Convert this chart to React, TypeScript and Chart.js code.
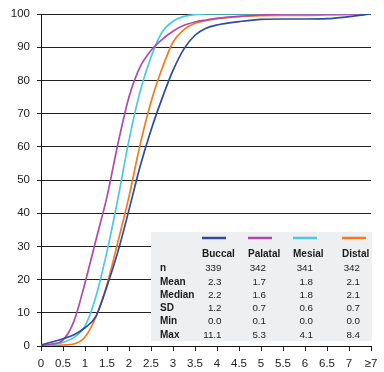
import React, { useEffect, useRef } from "react";
import { Chart, registerables } from "chart.js";

Chart.register(...registerables);

// x positions (mm); 7.5 stands for the "≥7" bucket
const xValues = [0, 0.25, 0.5, 0.75, 1, 1.25, 1.5, 1.75, 2, 2.25, 2.5, 2.75, 3, 3.25, 3.5, 3.75, 4, 4.5, 5, 5.5, 6, 6.5, 7, 7.5];

// cumulative percentages per surface
const buccal = [0.3, 1.2, 2.2, 3.4, 5.5, 9, 18, 28.5, 41, 54, 65, 74.5, 83, 89.5, 93.6, 95.7, 96.7, 97.7, 98.4, 98.5, 98.5, 98.6, 99.2, 100];
const palatal = [0.2, 0.6, 1.8, 7.5, 19, 32, 45, 61, 75, 84, 89, 92.3, 94.8, 96.6, 97.6, 98.2, 98.7, 99.3, 99.7, 100, 100, 100, 100, 100];
const mesial = [0.1, 0.4, 1.1, 2.6, 6, 15, 28.5, 44.5, 62, 76.5, 87, 94.5, 97.8, 99.3, 99.8, 100, 100, 100, 100, 100, 100, 100, 100, 100];
const distal = [0, 0.1, 0.3, 0.6, 2.7, 8.8, 18.5, 31.5, 45, 60.5, 73.5, 83.5, 91.5, 95.3, 97.2, 98, 98.6, 99.2, 99.5, 99.6, 99.6, 99.7, 99.8, 100];

const xTickLabels = ["0", "0.5", "1", "1.5", "2", "2.5", "3", "3.5", "4", "4.5", "5", "5.5", "6", "6.5", "7", "≥7"];

const seriesNames = ["Buccal", "Palatal", "Mesial", "Distal"];
const seriesColors = ["#2d4b9e", "#b04aa9", "#4cc9e4", "#f47a20"];

// summary statistics table
const statRows = ["n", "Mean", "Median", "SD", "Min", "Max"];
const buccalStats = ["339", "2.3", "2.2", "1.2", "0.0", "11.1"];
const palatalStats = ["342", "1.7", "1.6", "0.7", "0.1", "5.3"];
const mesialStats = ["341", "1.8", "1.8", "0.6", "0.0", "4.1"];
const distalStats = ["342", "2.1", "2.1", "0.7", "0.0", "8.4"];

const FONT = "'Liberation Sans', Arial, Helvetica, sans-serif";

const statsTable = {
  id: "statsTable",
  beforeDatasetsDraw(chart: any) {
    const ctx = chart.ctx;
    ctx.save();
    ctx.fillStyle = "#eeeff1";
    ctx.fillRect(151, 232, 221, 109);
    ctx.restore();
  },
  afterDraw(chart: any) {
    const ctx = chart.ctx;
    const stats = [buccalStats, palatalStats, mesialStats, distalStats];
    const colLeft = [202, 248, 293, 342];
    const colRight = [221.5, 266, 313, 360];
    ctx.save();
    // legend swatches
    seriesColors.forEach((c, i) => {
      ctx.strokeStyle = c;
      ctx.lineWidth = 2.5;
      ctx.beginPath();
      ctx.moveTo(colLeft[i], 238);
      ctx.lineTo(colLeft[i] + 24, 238);
      ctx.stroke();
    });
    ctx.textBaseline = "middle";
    ctx.fillStyle = "#1a1a1a";
    ctx.font = `bold 10px ${FONT}`;
    ctx.textAlign = "left";
    seriesNames.forEach((n, i) => ctx.fillText(n, colLeft[i], 254.5));
    statRows.forEach((r, j) => ctx.fillText(r, 160, 268.5 + j * 13.3));
    ctx.font = `9.8px ${FONT}`;
    ctx.fillStyle = "#222";
    ctx.textAlign = "right";
    stats.forEach((col, i) => {
      col.forEach((v, j) => ctx.fillText(v, colRight[i], 268.5 + j * 13.3));
    });
    ctx.restore();
  },
};

export default function App() {
  const ref = useRef<HTMLCanvasElement | null>(null);

  useEffect(() => {
    if (!ref.current) return;
    const toPoints = (ys: number[]) => ys.map((y, i) => ({ x: xValues[i], y }));
    const chart = new Chart(ref.current, {
      type: "line",
      data: {
        datasets: [buccal, palatal, mesial, distal].map((ys, i) => ({
          label: seriesNames[i],
          data: toPoints(ys),
          borderColor: seriesColors[i],
          backgroundColor: seriesColors[i],
          borderWidth: 1.7,
          pointRadius: 0,
          cubicInterpolationMode: "monotone" as const,
          fill: false,
        })),
      },
      options: {
        animation: false,
        responsive: false,
        devicePixelRatio: 1,
        layout: { padding: { left: 0, right: 13, top: 14, bottom: 0 } },
        plugins: { legend: { display: false }, tooltip: { enabled: false } },
        scales: {
          x: {
            type: "linear",
            min: 0,
            max: 7.5,
            afterFit(scale: any) {
              scale.height = 26;
            },
            grid: { drawOnChartArea: false, drawTicks: true, tickLength: 5, color: "#222" },
            border: { display: true, color: "#111", width: 1 },
            ticks: {
              stepSize: 0.5,
              autoSkip: false,
              maxRotation: 0,
              padding: 6,
              color: "#222",
              font: { family: FONT, size: 11.5 },
              callback: (v: any) => xTickLabels[Math.round(Number(v) / 0.5)] ?? "",
            },
          },
          y: {
            min: 0,
            max: 100,
            afterFit(scale: any) {
              scale.width = 41;
            },
            grid: { color: "#222", lineWidth: 1, drawTicks: true, tickLength: 4 },
            border: { display: true, color: "#111", width: 1 },
            ticks: {
              stepSize: 10,
              padding: 7,
              color: "#222",
              font: { family: FONT, size: 11.5 },
            },
          },
        },
      },
      plugins: [statsTable],
    });
    return () => chart.destroy();
  }, []);

  return (
    <div style={{ position: "fixed", left: 0, top: 0, width: 384, height: 372, background: "#fff" }}>
      <canvas ref={ref} width={384} height={372} />
    </div>
  );
}
